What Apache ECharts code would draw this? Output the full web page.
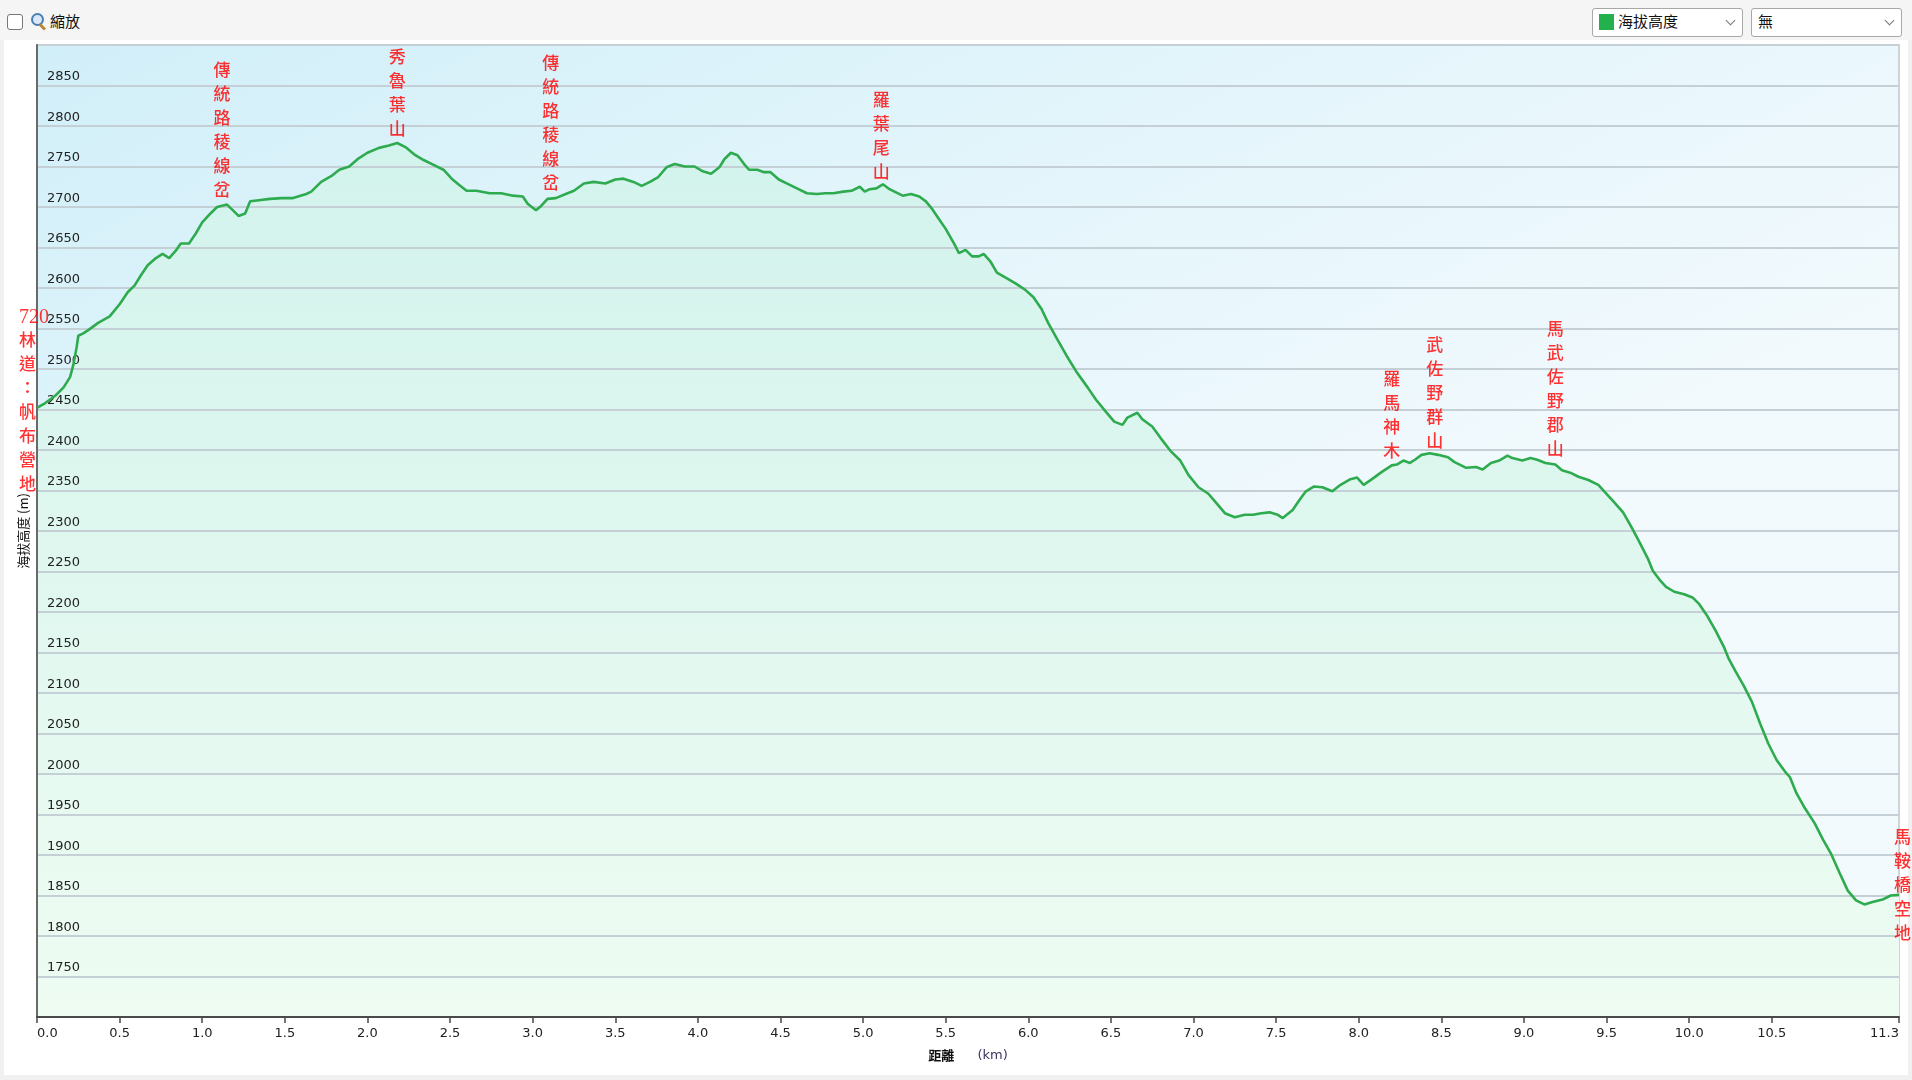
<!DOCTYPE html>
<html>
<head>
<meta charset="utf-8">
<script src="https://cdn.jsdelivr.net/npm/echarts@6/dist/echarts.min.js"></script>
<style>
  html, body { margin: 0; padding: 0; width: 1912px; height: 1080px; overflow: hidden; background: #f0f0f0; }
  #topbar { position: absolute; left: 0; top: 0; width: 1912px; height: 40px; background: #f5f5f5; }
  #panel { position: absolute; left: 4px; top: 40px; width: 1904px; height: 1035px; background: #ffffff; }
  #chart { position: absolute; left: 0; top: 0; width: 1912px; height: 1080px; }
  .cb { position: absolute; left: 7px; top: 14px; width: 14px; height: 14px; border: 1px solid #777; border-radius: 3px; background: #fff; }
  .mag { position: absolute; left: 31px; top: 13px; width: 9px; height: 9px; border: 2px solid #4a7fb5; border-radius: 50%; background: #dbe9f5; }
  .magh { position: absolute; left: 40px; top: 23px; width: 7px; height: 3px; background: #b8862b; transform: rotate(45deg); transform-origin: left center; }
  .txt { position: absolute; font-family: "Noto Sans CJK TC", sans-serif; font-size: 15px; color: #111; }
  .dd { position: absolute; top: 8px; width: 149px; height: 27px; border: 1px solid #a8a8a8; border-radius: 3px; background: #fff; }
  .chev { position: absolute; top: 8px; width: 6px; height: 6px; border-right: 1px solid #777; border-bottom: 1px solid #777; transform: rotate(45deg); }
</style>
</head>
<body>
<div id="topbar"></div>
<div id="panel"></div>
<div class="cb"></div>
<div class="mag"></div><div class="magh"></div>
<div class="txt" style="left:50px; top:10px;">縮放</div>
<div class="dd" style="left:1592px;">
  <div style="position:absolute; left:6px; top:5px; width:15px; height:16px; background:#22b14c;"></div>
  <div class="txt" style="left:25px; top:1px;">海拔高度</div>
  <div class="chev" style="left:134px;"></div>
</div>
<div class="dd" style="left:1751px;">
  <div class="txt" style="left:6px; top:1px;">無</div>
  <div class="chev" style="left:134px;"></div>
</div>
<div id="chart"></div>
<script>
// ---- data ----
const distKm = [0.00,0.05,0.11,0.16,0.20,0.22,0.24,0.25,0.28,0.31,
0.37,0.44,0.50,0.55,0.59,0.63,0.67,0.72,0.76,0.80,
0.84,0.87,0.92,0.96,1.00,1.05,1.09,1.15,1.18,1.22,
1.26,1.29,1.33,1.41,1.48,1.55,1.63,1.66,1.72,1.78,
1.83,1.89,1.94,2.00,2.07,2.13,2.18,2.23,2.29,2.34,
2.40,2.46,2.51,2.55,2.60,2.66,2.74,2.81,2.88,2.94,
2.97,3.02,3.05,3.09,3.14,3.20,3.25,3.31,3.37,3.44,
3.50,3.55,3.61,3.66,3.71,3.76,3.81,3.86,3.92,3.98,
4.03,4.08,4.13,4.16,4.20,4.24,4.28,4.31,4.36,4.40,
4.44,4.49,4.55,4.60,4.66,4.72,4.77,4.82,4.88,4.93,
4.98,5.01,5.04,5.08,5.12,5.16,5.19,5.24,5.29,5.34,
5.38,5.42,5.46,5.50,5.55,5.58,5.62,5.66,5.70,5.73,
5.77,5.81,5.86,5.92,5.98,6.03,6.08,6.12,6.18,6.23,
6.29,6.36,6.41,6.47,6.52,6.57,6.60,6.66,6.69,6.75,
6.80,6.86,6.92,6.97,7.03,7.09,7.14,7.19,7.25,7.31,
7.36,7.41,7.46,7.51,7.54,7.60,7.64,7.68,7.73,7.78,
7.84,7.89,7.95,7.99,8.03,8.08,8.14,8.20,8.23,8.27,
8.31,8.34,8.38,8.43,8.48,8.54,8.58,8.62,8.65,8.71,
8.75,8.80,8.85,8.90,8.93,8.99,9.04,9.08,9.13,9.19,
9.23,9.28,9.33,9.39,9.45,9.49,9.54,9.60,9.65,9.70,
9.75,9.78,9.82,9.86,9.91,9.97,10.02,10.06,10.11,10.16,
10.21,10.24,10.28,10.33,10.38,10.43,10.48,10.53,10.58,10.61,
10.65,10.70,10.76,10.81,10.86,10.91,10.96,11.01,11.06,11.11,
11.17,11.22,11.27];

const elevM = [2452,2458,2467,2477,2490,2505,2527,2541,2544,2548,
2557,2565,2580,2595,2603,2616,2628,2637,2642,2637,
2646,2655,2655,2667,2681,2692,2700,2703,2697,2689,
2692,2707,2708,2710,2711,2711,2716,2719,2731,2738,
2746,2750,2759,2767,2773,2776,2779,2774,2764,2758,
2752,2746,2735,2728,2720,2720,2717,2717,2714,2713,
2704,2696,2701,2710,2711,2716,2720,2729,2731,2729,
2734,2735,2731,2726,2731,2737,2749,2753,2750,2750,
2744,2741,2749,2759,2767,2764,2753,2746,2746,2743,
2743,2734,2728,2723,2717,2716,2717,2717,2719,2720,
2725,2719,2722,2723,2728,2722,2719,2714,2716,2713,
2707,2697,2685,2673,2655,2643,2647,2639,2639,2642,
2633,2619,2613,2606,2598,2589,2574,2557,2535,2517,
2497,2477,2462,2447,2435,2431,2440,2446,2438,2429,
2415,2399,2387,2369,2354,2346,2334,2322,2317,2320,
2320,2322,2323,2320,2316,2326,2338,2349,2355,2354,
2349,2357,2364,2366,2357,2364,2373,2381,2382,2387,
2384,2388,2394,2396,2394,2391,2385,2381,2378,2379,
2376,2384,2387,2393,2390,2387,2390,2388,2384,2382,
2375,2372,2367,2363,2357,2348,2337,2323,2305,2286,
2266,2251,2240,2231,2225,2222,2218,2210,2195,2177,
2157,2142,2127,2109,2089,2062,2037,2017,2003,1996,
1976,1958,1939,1919,1901,1878,1856,1844,1839,1842,
1845,1850,1851];

const markerNames = ['720林道：帆布營地','傳統路稜線岔','秀魯葉山','傳統路稜線岔','羅葉尾山','羅馬神木','武佐野群山','馬武佐野郡山','馬鞍橋空地'];
const markerKm    = [0.00, 1.12, 2.18, 3.11, 5.11, 8.20, 8.46, 9.19, 11.27];
const markerElev  = [2452, 2704, 2780, 2713, 2726, 2382, 2394, 2384, 1851];
const markerPlace = ['start','top','top','top','top','top','top','top','end'];

const xTickValues = [0,0.5,1,1.5,2,2.5,3,3.5,4,4.5,5,5.5,6,6.5,7,7.5,8,8.5,9,9.5,10,10.5,11.27];
const yMin = 1700, yMax = 2900, yStep = 50;
const xMax = 11.27;
const yAxisTitle = '海拔高度 (m)';
const xAxisTitleA = '距離', xAxisTitleB = '(km)';

// ---- chart ----
const chart = echarts.init(document.getElementById('chart'), null, { renderer: 'canvas' });

const lineData = distKm.map((d, i) => [d, elevM[i]]);
const PLOT_TOP = 45, PLOT_BOTTOM = 1017;

const labelFont = '"Liberation Serif", "Noto Sans CJK TC", serif';
const markerData = markerNames.map((n, i) => {
  const parts = n.match(/[0-9]+|./gu).map(p => /[0-9]/.test(p) ? '{d|' + p + '}' : p);
  const item = { value: [markerKm[i], markerElev[i]], name: n, label: { formatter: parts.join('\n') } };
  if (markerPlace[i] === 'start') {
    item.label.position = [-18, -6];
    item.label.align = 'left';
    item.label.verticalAlign = 'middle';
  } else if (markerPlace[i] === 'end') {
    item.label.position = [-5, -8];
    item.label.align = 'left';
    item.label.verticalAlign = 'middle';
  }
  return item;
});

const option = {
  animation: false,
  grid: {
    left: 37, right: 13, top: PLOT_TOP, bottom: 1080 - PLOT_BOTTOM,
    show: true,
    borderColor: '#cfd4d6', borderWidth: 2,
    backgroundColor: {
      type: 'linear', x: 0, y: 0, x2: 0.25, y2: 1,
      colorStops: [
        { offset: 0, color: '#d1eff9' },
        { offset: 0.5, color: '#e3f5fb' },
        { offset: 1, color: '#f3fafd' }
      ]
    }
  },
  xAxis: {
    type: 'value', min: 0, max: xMax, z: 4,
    axisLine: { show: true, onZero: false, lineStyle: { color: '#4a4a4a', width: 2 } },
    axisTick: { show: true, length: 6, customValues: xTickValues, lineStyle: { color: '#4a4a4a', width: 1.5 } },
    axisLabel: {
      customValues: xTickValues,
      formatter: v => v.toFixed(1),
      margin: 10, color: '#222', fontSize: 13, fontFamily: '"DejaVu Sans", sans-serif',
      alignMinLabel: 'left', alignMaxLabel: 'right'
    },
    splitLine: { show: false },
    name: '{a|' + xAxisTitleA + '}       {b|' + xAxisTitleB + '}',
    nameLocation: 'middle', nameGap: 32,
    nameTextStyle: {
      rich: {
        a: { fontFamily: '"Noto Sans CJK TC", sans-serif', fontSize: 13, fontWeight: 'bold', color: '#111' },
        b: { fontFamily: '"DejaVu Sans", sans-serif', fontSize: 13, color: '#3a3560' }
      }
    }
  },
  yAxis: {
    type: 'value', min: yMin, max: yMax, interval: yStep, z: 2,
    axisLine: { show: true, onZero: false, lineStyle: { color: '#6a6a6a', width: 2 } },
    axisTick: { show: false },
    axisLabel: {
      inside: true, margin: 10, showMinLabel: false, showMaxLabel: false,
      formatter: v => String(v),
      verticalAlign: 'bottom', padding: [0, 0, 2, 0],
      color: '#222', fontSize: 13, fontFamily: '"DejaVu Sans", sans-serif'
    },
    splitLine: { show: true, lineStyle: { color: '#c4d0d5', width: 2 } },
    name: yAxisTitle, nameLocation: 'middle', nameGap: 5, nameRotate: 90,
    nameTextStyle: { fontFamily: '"Noto Sans CJK TC", sans-serif', fontSize: 13, color: '#111' }
  },
  series: [
    {
      type: 'line', data: lineData, showSymbol: false, symbol: 'none',
      lineStyle: { width: 0, opacity: 0 },
      areaStyle: {
        color: {
          type: 'linear', global: true, x: 0, y: PLOT_TOP, x2: 0, y2: PLOT_BOTTOM,
          colorStops: [
            { offset: 0, color: '#cff2ec' },
            { offset: 1, color: '#eefcf2' }
          ]
        },
        opacity: 1
      },
      z: 1
    },
    {
      type: 'line', data: lineData, showSymbol: false, symbol: 'none',
      lineStyle: { color: '#2eab4e', width: 2.6 },
      z: 3
    },
    {
      type: 'scatter', data: markerData, symbolSize: 0, z: 5,
      label: {
        show: true, position: 'top', distance: 0,
        color: '#ff0000', fontSize: 17, lineHeight: 24, fontWeight: 500, fontFamily: labelFont,
        rich: { d: { fontSize: 20, lineHeight: 24, color: '#ff0000', fontFamily: '"Liberation Serif", serif' } }
      }
    }
  ]
};
chart.setOption(option);
</script>
</body>
</html>
